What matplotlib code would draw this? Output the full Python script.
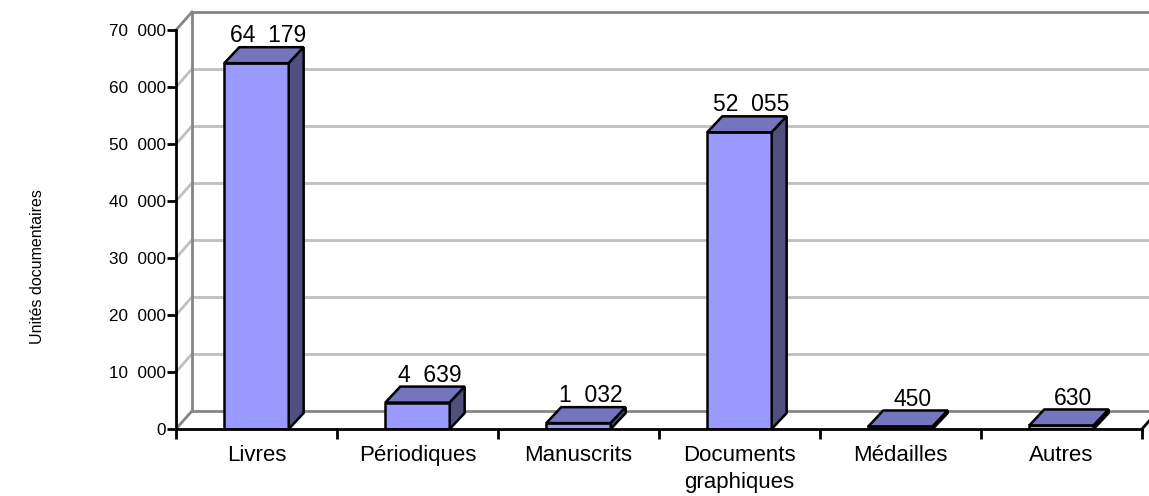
import matplotlib.pyplot as plt
from matplotlib.ticker import FixedLocator, NullFormatter

categories = ['Livres', 'Périodiques', 'Manuscrits', 'Documents\ngraphiques', 'Médailles', 'Autres']
values = [64179, 4639, 1032, 52055, 450, 630]
value_labels = ['64  179', '4  639', '1  032', '52  055', '450', '630']
yticks = [0, 10000, 20000, 30000, 40000, 50000, 60000, 70000]
ytick_labels = ['0', '10  000', '20  000', '30  000', '40  000', '50  000', '60  000', '70  000']

plt.rcParams['font.family'] = ['Liberation Sans', 'DejaVu Sans']

fig = plt.figure(figsize=(11.49, 4.96), dpi=100)
ax = fig.add_axes([176 / 1149, 67 / 496, 966 / 1149, 399 / 496])
ax.set_xlim(-0.5, 5.5)
ax.set_ylim(0, 70000)

# depth of the "3D" walls and of the bars, in data units
wx, wy = 0.099, 3160
bx, by = 0.093, 2800
w = 0.4
light = '#c0c0c0'
dark = '#858585'

# back wall, grid and side wall
x0, x1 = -0.5, 5.5
for t in yticks:
    c = dark if t in (0, 70000) else light
    ax.plot([x0 + wx, x1 + wx + 0.2], [t + wy, t + wy], color=c, lw=2, clip_on=False, zorder=1)
    ax.plot([x0, x0 + wx], [t, t + wy], color=c, lw=2, clip_on=False, zorder=1)
ax.plot([x0 + wx, x0 + wx], [wy, 70000 + wy], color=dark, lw=2, clip_on=False, zorder=1)
ax.plot([x1, x1 + wx], [0, wy], color='black', lw=2, clip_on=False, zorder=1)

# bars
for i, v in enumerate(values):
    l, r = i - w / 2, i + w / 2
    ax.bar(i, v, width=w, color='#9999ff', edgecolor='black', linewidth=1.8, zorder=3 + i)
    ax.fill([l, r, r + bx, l + bx], [v, v, v + by, v + by], facecolor='#7474bf',
            edgecolor='black', linewidth=1.8, zorder=3 + i, clip_on=False)
    ax.fill([r, r + bx, r + bx, r], [0, by, v + by, v], facecolor='#4f4f80',
            edgecolor='black', linewidth=1.8, zorder=3 + i, clip_on=False)
    ax.annotate(value_labels[i], (i + 0.8 * bx, v + by), xytext=(0, 3.5),
                textcoords='offset points', ha='center', va='baseline',
                fontsize=16.5, zorder=20, annotation_clip=False)

for s in ['top', 'right']:
    ax.spines[s].set_visible(False)
for s in ['left', 'bottom']:
    ax.spines[s].set_linewidth(2)
    ax.spines[s].set_zorder(15)

ax.set_yticks(yticks)
ax.set_yticklabels(ytick_labels, fontsize=12.3)
ax.tick_params(axis='y', length=6.5, width=2, pad=0.5)

ax.xaxis.set_major_locator(FixedLocator([-0.5, 0.5, 1.5, 2.5, 3.5, 4.5, 5.5]))
ax.xaxis.set_major_formatter(NullFormatter())
ax.set_xticks(range(len(categories)), minor=True)
ax.set_xticklabels(categories, minor=True, fontsize=16, va='top', linespacing=1.35)
ax.tick_params(axis='x', which='major', length=7, width=2)
ax.tick_params(axis='x', which='minor', length=0, pad=11.5)

fig.text(38 / 1149, 1 - 267 / 496, 'Unités documentaires', rotation=90,
         ha='center', va='center', fontsize=11.5)

fig.savefig('out.png', dpi=100)
